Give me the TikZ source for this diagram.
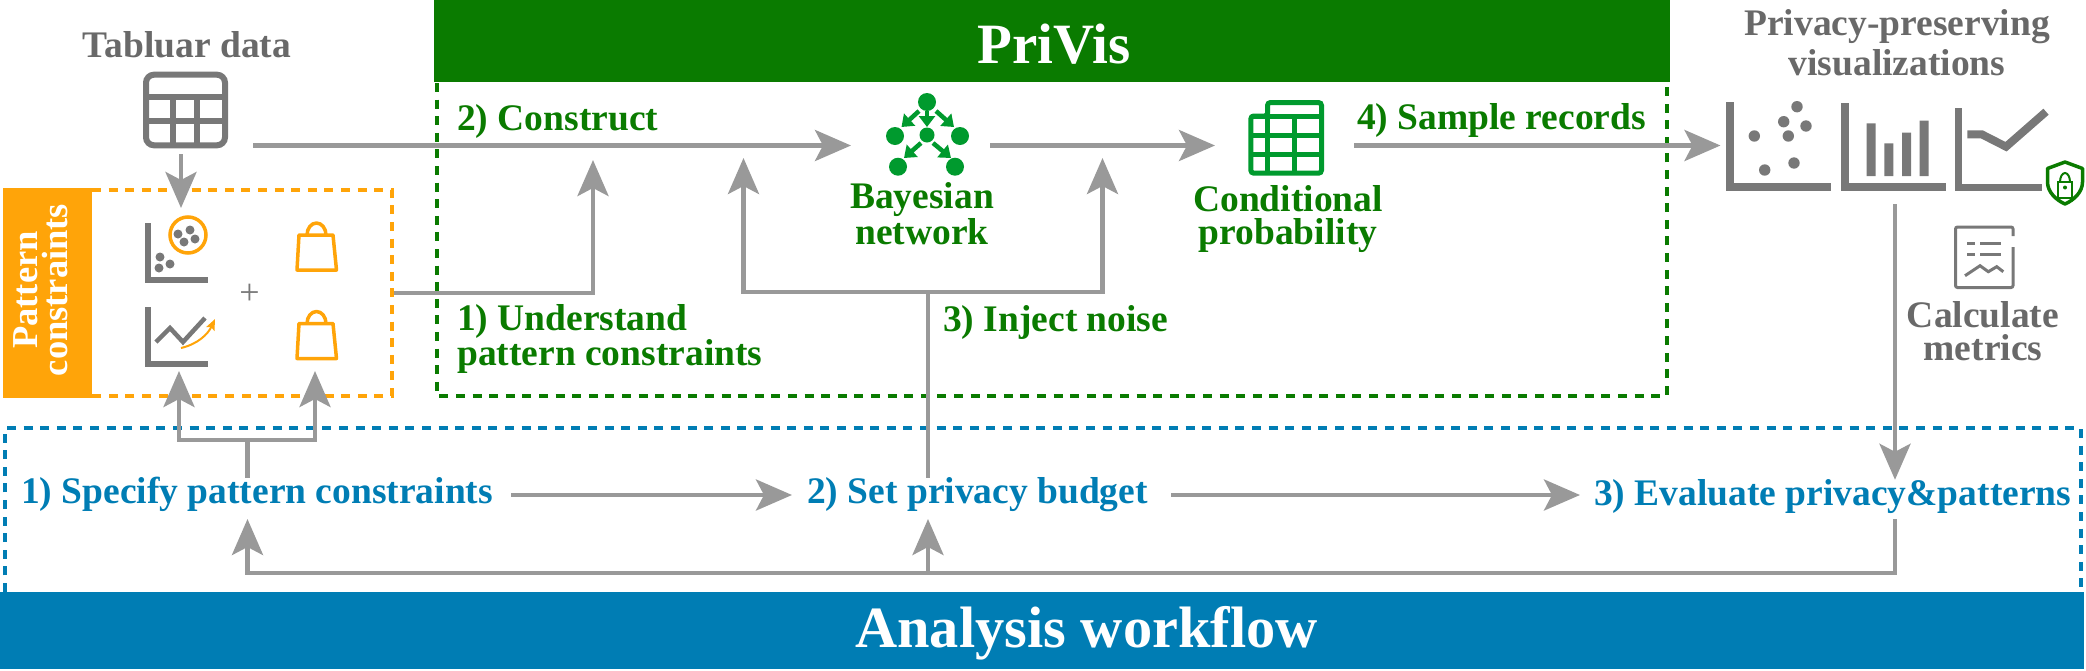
\documentclass[tikz,border=0pt]{standalone}
\usepackage{fontspec}
\setmainfont{Liberation Serif}
\usetikzlibrary{arrows.meta}
\definecolor{arrowgray}{HTML}{999999}
\definecolor{icongray}{HTML}{787878}
\definecolor{textgray}{HTML}{696969}
\definecolor{patorange}{HTML}{FFA409}
\definecolor{sysgreen}{HTML}{0A7B00}
\definecolor{icongreen}{HTML}{009A2E}
\definecolor{flowblue}{HTML}{007DB4}
\tikzstyle{label}=[inner sep=0pt, font=\fontsize{37.5}{33}\selectfont\bfseries, align=center]
\tikzstyle{gray label}=[label, text=textgray]
\tikzstyle{green label}=[label, text=sysgreen]
\tikzstyle{blue label}=[label, text=flowblue, text height=25pt, text depth=8pt]
\tikzstyle{banner}=[inner sep=0pt, text=white, font=\fontsize{57}{60}\selectfont\bfseries]
\tikzstyle{edge}=[draw=arrowgray, line width=4.5pt, -{Stealth[length=36pt,width=31pt,inset=8pt]}]
\tikzstyle{plain edge}=[draw=arrowgray, line width=4.5pt]
\tikzstyle{netedge}=[draw=icongreen, line width=4.5pt, -{Triangle[length=11pt,width=16pt]}]
\tikzstyle{axis}=[draw=icongray, line width=6pt, miter limit=10]
\tikzstyle{bigaxis}=[draw=icongray, line width=8pt]
\tikzstyle{bag}=[draw=patorange, line width=3.5pt, line join=round]
\tikzstyle{box}=[line width=4pt, dash pattern=on 9pt off 7.6pt]

\begin{document}
\begin{tikzpicture}[x=1pt, y=-1pt]
			\useasboundingbox (0,0) rectangle (2086,670);

			%The dashed frames
			\draw[box, draw=patorange] (92,190) -- (392,190) -- (392,396) -- (92,396);
			\draw[box, draw=sysgreen] (437,83) -- (437,396) -- (1666.5,396) -- (1666.5,83);
			\draw[box, draw=flowblue] (5,592) -- (5,428) -- (2081,428) -- (2081,592);

			%The banners
			\fill[patorange] (3,188) rectangle (92,398);
			\fill[sysgreen] (434,0) rectangle (1670,82);
			\fill[flowblue] (0,592) rectangle (2084,669);
			\draw (1054,63) node[banner, anchor=base] (privis) {PriVis};
			\draw (1086.5,647) node[banner, anchor=base, font=\fontsize{58.4}{60}\selectfont\bfseries] (workflow) {Analysis workflow};
			\draw (41,290) node[label, rotate=90, text=white, font=\fontsize{36.5}{30}\selectfont\bfseries] (patterns) {Pattern\\constraints};

			%The tabular data
			\draw (187,57) node[gray label, anchor=base] (tabular) {Tabluar data};
			\draw[icongray, line width=6pt, rounded corners=8pt] (146,74.7) rectangle (225,145.3);
			\draw[icongray, line width=6pt] (146,96.7) -- (225,96.7) (146,120.7) -- (225,120.7) (173,96.7) -- (173,145) (197,96.7) -- (197,145);

			%The pattern icons
			\draw[axis] (148,223) -- (148,280) -- (208,280);
			\draw[patorange, line width=3.5pt] (188,235) circle (18);
			\fill[icongray] (178,234) circle (4.5) (190,230) circle (4.5) (184,242) circle (4.5) (195,239) circle (4.5) (160,257) circle (4.5) (170,264) circle (4.5) (159,268) circle (4.5);
			\draw[axis] (148,307) -- (148,364) -- (208,364);
			\draw[icongray, line width=4.5pt] (156,342) -- (170,328) -- (183,342) -- (205,318);
			\draw[patorange, line width=2pt, -{Stealth[length=11pt,width=9pt,inset=2pt]}] (181,348) .. controls (198,344) and (208,334) .. (215,319);
			\draw (249.5,294.5) node[inner sep=0pt, text=icongray, font=\fontsize{36}{36}\selectfont] (plus) {+};
			\draw[bag] (299,235) -- (333,235) -- (336.5,270) -- (297,270) -- cycle;
			\draw[bag] (307,235) arc (180:360:9.5 and 12);
			\draw[bag] (299,323.5) -- (333,323.5) -- (336.5,358.5) -- (297,358.5) -- cycle;
			\draw[bag] (307,323.5) arc (180:360:9.5 and 12);

			%The network icon
			\fill[icongreen] (927,102) circle (9) (895,136) circle (9) (960,136) circle (9) (927,135) circle (7.5) (898,166.7) circle (9) (955,166.7) circle (9);
			\draw[netedge] (927,111) -- (927,127);
			\draw[netedge] (919,111) -- (901.5,127);
			\draw[netedge] (936,111) -- (954,127);
			\draw[netedge] (921,143) -- (904,158);
			\draw[netedge] (933,143) -- (951,158);
			\draw (922,244) node[green label, anchor=base] (bayes) {Bayesian\\network};

			%The probability icon
			\draw[icongreen, line width=5pt, rounded corners=3pt] (1267.5,116) -- (1267.5,102.5) -- (1321.5,102.5) -- (1321.5,173.2) -- (1250.8,173.2) -- (1250.8,116) -- cycle;
			\draw[icongreen, line width=5pt] (1250.8,116.7) -- (1321.5,116.7) (1250.8,135) -- (1321.5,135) (1250.8,154) -- (1321.5,154) (1267.3,116) -- (1267.3,173) (1294.3,116) -- (1294.3,173);
			\draw (1288,244) node[green label, anchor=base] (conditional) {Conditional\\probability};

			%The step labels of the system
			\draw (457,130.7) node[green label, anchor=base west] (construct) {2) Construct};
			\draw (457,365) node[green label, anchor=base west, align=left] (understand) {1) Understand\\pattern constraints};
			\draw (943,331.7) node[green label, anchor=base west] (inject) {3) Inject noise};
			\draw (1357,129.3) node[green label, anchor=base west] (sample) {4) Sample records};

			%The visualizations
			\draw (1897,75) node[gray label, anchor=base, font=\fontsize{37.5}{40}\selectfont\bfseries] (privacy) {Privacy-preserving\\visualizations};
			\draw[bigaxis] (1730,102) -- (1730,187) -- (1831,187);
			\fill[icongray] (1754.3,136) circle (5.7) (1764.7,170) circle (5.7) (1794,163) circle (5.7) (1788.3,136) circle (5.7) (1783.7,121.7) circle (5.7) (1806,126) circle (5.7) (1797,106.7) circle (5.7);
			\draw[bigaxis] (1844.5,103) -- (1844.5,187) -- (1946,187);
			\fill[icongray] (1866.7,123.3) rectangle (1875.7,176) (1884.3,143.3) rectangle (1893.3,176) (1902,132.7) rectangle (1911,176) (1919.7,120.7) rectangle (1928.7,176);
			\draw[bigaxis, line width=7pt] (1958.5,108) -- (1958.5,187) -- (2042,187);
			\draw[bigaxis] (1967.3,134.3) -- (1981.7,134.3) -- (2006,146.7) -- (2046,111.7);

			%The shield
			\draw[sysgreen, line width=3.5pt, line join=round] (2065,162) -- (2082.5,168.5) -- (2082.5,182) .. controls (2082.5,192) and (2074,200) .. (2065,204) .. controls (2056,200) and (2047.5,192) .. (2047.5,182) -- (2047.5,168.5) -- cycle;
			\draw[sysgreen, line width=2pt] (2058,182) rectangle (2072,198);
			\draw[sysgreen, line width=2pt] (2060,182) arc (180:360:5 and 9);
			\fill[sysgreen] (2065,187.5) circle (2);

			%The metrics
			\draw[icongray, line width=3pt, rounded corners=2pt] (2013,236) -- (2013,227) -- (1955.5,227) -- (1955.5,287.5) -- (2013,287.5) -- (2013,247);
			\draw[icongray, line width=3pt] (1967,243.3) -- (1975,243.3) (1980,243.3) -- (2001,243.3) (1967,254) -- (1975,254) (1980,254) -- (2001,254);
			\draw[icongray, line width=3pt] (1965,275.7) -- (1980,265.7) -- (1988.3,271.7) -- (1996.7,266.7) -- (2003.3,271.7);
			\draw (1983,360) node[gray label, anchor=base] (calculate) {Calculate\\metrics};

			%The analysis steps
			\draw (21,503.5) node[blue label, anchor=base west] (specify) {1) Specify pattern constraints};
			\draw (807,503.5) node[blue label, anchor=base west] (budget) {2) Set privacy budget};
			\draw (1594,505) node[blue label, anchor=base west] (evaluate) {3) Evaluate privacy\&patterns};

			%The connector ends
			\coordinate (table-out) at (253,145.5);
			\coordinate (net-in) at (851,145.5);
			\coordinate (net-out) at (990,145.5);
			\coordinate (prob-in) at (1215,145.5);
			\coordinate (prob-out) at (1354,145.5);
			\coordinate (vis-in) at (1720.5,145.5);
			\coordinate (table-down) at (181,154);
			\coordinate (icons-in) at (181,208);
			\coordinate (box-out) at (394,293);
			\coordinate (construct-in) at (593,160);
			\coordinate (noise-left) at (743.5,158);
			\coordinate (noise-right) at (1102.5,158);
			\coordinate (noise-fork) at (928,292);
			\coordinate (vis-out) at (1895,204);
			\coordinate (spec-fork) at (247.5,440);
			\coordinate (chart-in) at (179,371);
			\coordinate (bag-in) at (315,371);
			\coordinate (loop-start) at (1895,519);
			\coordinate (loop-fork) at (928,573);
			\coordinate (loop-end) at (247.5,519);

			%The connectors
			\draw[edge] (table-out) -- (net-in);
			\draw[edge] (net-out) -- (prob-in);
			\draw[edge] (prob-out) -- (vis-in);
			\draw[edge] (table-down) -- (icons-in);
			\draw[edge] (box-out) -| (construct-in);
			\draw[plain edge] (noise-fork) -- (noise-fork |- budget.north);
			\draw[edge] (noise-fork) -| (noise-left);
			\draw[edge] (noise-fork) -| (noise-right);
			\draw[edge] (vis-out) -- (vis-out |- evaluate.north);
			\draw[plain edge] (spec-fork) -- (spec-fork |- specify.north);
			\draw[edge] (spec-fork) -| (chart-in);
			\draw[edge] (spec-fork) -| (bag-in);
			\draw[edge, shorten <=18pt, shorten >=15pt] (specify.east) -- (budget.west);
			\draw[edge, shorten <=23pt, shorten >=14pt] (budget.east) -- (budget.east -| evaluate.west);
			\draw[edge] (loop-start) |- (loop-end |- loop-fork) -- (loop-end);
			\draw[edge] (loop-fork) -- (loop-fork |- loop-start);
		\end{tikzpicture}
\end{document}
